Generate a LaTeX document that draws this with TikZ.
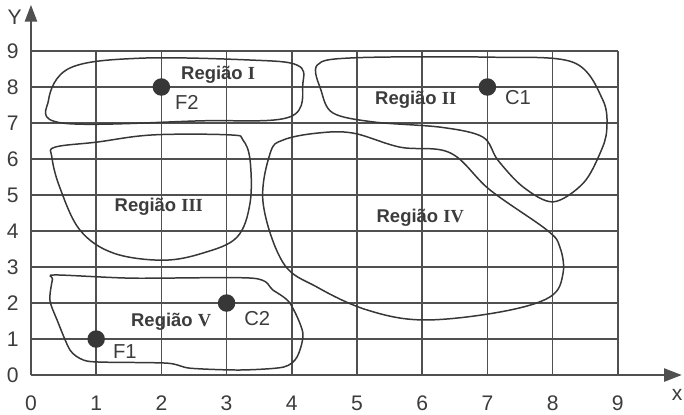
\documentclass[tikz,border=0pt]{standalone}
\usepackage{fontspec}
\setmainfont{Liberation Sans}
\newfontfamily\romnum{Liberation Serif}
\usetikzlibrary{arrows.meta}

\begin{document}
\begin{tikzpicture}[x=1.304cm,y=0.72cm,
  region/.style={draw=curvec,line width=0.85pt},
  rlabel/.style={font=\fontsize{10.5}{12}\selectfont\bfseries,text=labelc},
  plabel/.style={font=\fontsize{11.5}{13}\selectfont,text=labelc},
  ticklab/.style={font=\fontsize{12}{14}\selectfont,text=labelc},
  dot/.style={circle,fill=dotc,inner sep=0pt,minimum size=0.35cm}]
  \definecolor{gridc}{RGB}{80,80,80}
  \definecolor{curvec}{RGB}{55,55,55}
  \definecolor{labelc}{RGB}{60,60,60}
  \definecolor{dotc}{RGB}{55,55,55}
  \useasboundingbox (-0.475,-1.083) rectangle (10.015,10.417);
  % grid
  \foreach \x in {0,...,9}{%
    \draw[gridc,line width=0.95pt] (\x,0) -- (\x,9);
    \node[ticklab] (xt\x) at (\x,-0.78) {\x};
  }
  \foreach \y in {0,...,9}{%
    \draw[gridc,line width=0.95pt] (0,\y) -- (9,\y);
    \node[ticklab] (yt\y) at (-0.28,\y) {\y};
  }
  % axes
  \coordinate (orig) at (0,0);
  \coordinate (xend) at (9.98,0);
  \coordinate (yend) at (0,10.28);
  \draw[gridc,line width=0.95pt,-{Triangle[length=10pt,width=7.5pt]}] (orig) -- (xend);
  \draw[gridc,line width=0.95pt,-{Triangle[length=9.5pt,width=7pt]}] (orig) -- (yend);
  \node[ticklab] (xname) at (9.91,-0.56) {x};
  \node[ticklab] (yname) at (-0.25,9.94) {Y};
  % regions
  \draw[region] plot[smooth cycle,tension=0.6] coordinates {
    (0.27,7.64) (0.6,8.53) (1.67,8.8) (3.36,8.75) (4.08,8.61) (4.17,8.11)
    (3.97,7.17) (2.59,7.06) (0.48,7.0)};
  \draw[region] plot[smooth cycle,tension=0.55] coordinates {
    (4.39,8.61) (4.94,8.81) (6.99,8.83) (8.31,8.69) (8.77,7.64) (8.83,6.81)
    (8.73,6.17) (8.47,5.33) (8.01,4.81) (7.55,5.22) (7.16,5.97) (6.93,6.61)
    (6.3,6.88) (5.25,7.03) (4.63,7.28) (4.45,7.9)};
  \draw[region] plot[smooth cycle,tension=0.6] coordinates {
    (0.37,6.33) (1.01,6.47) (1.87,6.67) (3.05,6.67) (3.25,6.53) (3.36,5.97)
    (3.36,4.78) (3.16,3.83) (2.64,3.39) (2.02,3.19) (1.26,3.39) (0.75,4.03)
    (0.44,5.22) (0.32,6.06)};
  \draw[region] plot[smooth cycle,tension=0.6] coordinates {
    (4.39,6.72) (4.94,6.72) (5.66,6.33) (6.43,6.17) (7.04,5.14) (7.91,4.03)
    (8.11,3.56) (8.16,2.83) (7.96,2.17) (7.19,1.75) (6.01,1.53) (5.15,1.81)
    (4.39,2.44) (3.87,3.11) (3.56,4.78) (3.67,6.17) (3.87,6.53)};
  \draw[region] plot[smooth cycle,tension=0.45] coordinates {
    (0.37,2.78) (1.56,2.69) (3.40,2.69) (3.71,2.36) (3.97,2.0) (4.17,1.17)
    (4.08,0.5) (3.87,0.22) (3.21,0.14) (2.44,0.19) (2.09,0.33) (1.06,0.36)
    (0.8,0.42) (0.6,0.69) (0.4,1.53) (0.29,2.08) (0.33,2.66)};
  % region names
  \node[rlabel] (reg1) at (2.87,8.33) {Região {\romnum I}};
  \node[rlabel] (reg2) at (5.9,7.64) {Região {\romnum II}};
  \node[rlabel] (reg3) at (1.96,4.67) {Região {\romnum III}};
  \node[rlabel] (reg4) at (5.97,4.36) {Região {\romnum IV}};
  \node[rlabel] (reg5) at (2.15,1.47) {Região {\romnum V}};
  % points
  \node[dot] (F2) at (2,8) {};
  \node[dot] (C1) at (7,8) {};
  \node[dot] (C2) at (3,2) {};
  \node[dot] (F1) at (1,1) {};
  \node[plabel] (F2lab) at (2.39,7.58) {F2};
  \node[plabel] (C1lab) at (7.47,7.72) {C1};
  \node[plabel] (C2lab) at (3.47,1.58) {C2};
  \node[plabel] (F1lab) at (1.44,0.64) {F1};
\end{tikzpicture}
\end{document}
